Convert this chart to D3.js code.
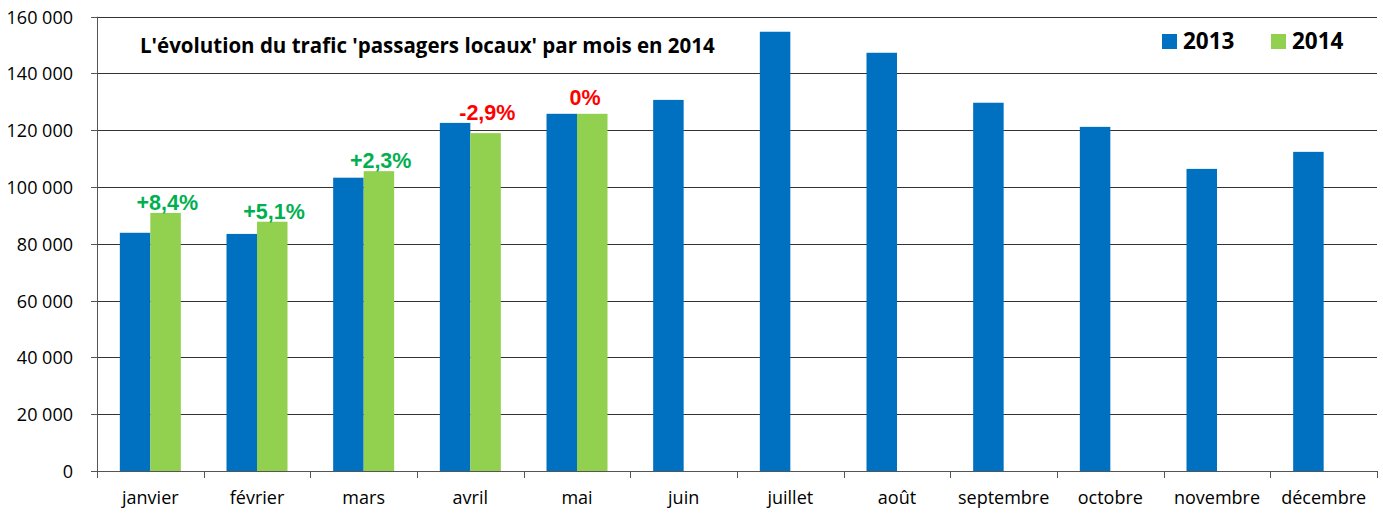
<!DOCTYPE html>
<html>
<head>
<meta charset="utf-8">
<script src="https://cdn.jsdelivr.net/npm/d3@7"></script>
<style>
  body { margin: 0; background: #fff; }
  svg { display: block; }
</style>
</head>
<body>
<svg id="chart" width="1383" height="517"></svg>
<script>
const months = ['janvier', 'février', 'mars', 'avril', 'mai', 'juin', 'juillet',
                'août', 'septembre', 'octobre', 'novembre', 'décembre'];
const values2013 = [83900, 83500, 103300, 122600, 125800, 130700, 154700,
                    147300, 129700, 121200, 106400, 112400];
const values2014 = [90900, 87800, 105600, 119000, 125800];
const changeLabels = ['+8,4%', '+5,1%', '+2,3%', '-2,9%', '0%'];
const yTicks = [0, 20000, 40000, 60000, 80000, 100000, 120000, 140000, 160000];

const BLUE = '#0070C0', GREEN = '#92D050';

const svg = d3.select('#chart');
const L = 97, R = 1377, T = 16.7, B = 471;

const x = d3.scaleBand().domain(months).range([L, R]).paddingInner(0).paddingOuter(0);
const y = d3.scaleLinear().domain([0, 160000]).range([B, T]);
const barW = 30.5;

const fmt = function (v) { return d3.format(',')(v).replace(/,/g, ' '); };

// gridlines
svg.append('g').selectAll('line')
    .data(yTicks.filter(function (d) { return d > 0; }))
    .join('line')
    .attr('x1', L).attr('x2', R)
    .attr('y1', function (d) { return Math.round(y(d)) + 0.5; })
    .attr('y2', function (d) { return Math.round(y(d)) + 0.5; })
    .attr('stroke', '#333').attr('stroke-width', 1.2);

// y tick labels + small ticks
yTicks.forEach(function (d) {
    var yy = Math.round(y(d)) + 0.5;
    svg.append('line').attr('x1', L - 6).attr('x2', L).attr('y1', yy).attr('y2', yy)
        .attr('stroke', '#555');
    svg.append('text')
        .attr('x', L - 24).attr('y', yy + 6.5)
        .attr('text-anchor', 'end')
        .style('font-family', 'Open Sans, sans-serif')
        .style('font-size', '18px')
        .style('fill', '#000')
        .text(fmt(d));
});

// bars 2013
svg.append('g').selectAll('rect')
    .data(values2013)
    .join('rect')
    .attr('x', function (d, i) { return x(months[i]) + x.bandwidth() / 2 - barW; })
    .attr('y', function (d) { return y(d); })
    .attr('width', barW)
    .attr('height', function (d) { return B - y(d); })
    .attr('fill', BLUE);

// bars 2014
svg.append('g').selectAll('rect')
    .data(values2014)
    .join('rect')
    .attr('x', function (d, i) { return x(months[i]) + x.bandwidth() / 2; })
    .attr('y', function (d) { return y(d); })
    .attr('width', barW)
    .attr('height', function (d) { return B - y(d); })
    .attr('fill', GREEN);

// change labels
svg.append('g').selectAll('text')
    .data(values2014)
    .join('text')
    .attr('x', function (d, i) { return x(months[i]) + x.bandwidth() / 2 + (i === 4 ? 8 : 17); })
    .attr('y', function (d, i) { return y(Math.max(d, values2013[i])) - (i === 4 ? 9 : 3); })
    .attr('text-anchor', 'middle')
    .style('font-family', 'Liberation Sans, Arial, sans-serif')
    .style('font-weight', 'bold')
    .style('font-size', '21.5px')
    .style('fill', function (d, i) { return changeLabels[i].charAt(0) === '+' ? '#00B050' : '#FF0000'; })
    .text(function (d, i) { return changeLabels[i]; });

// axes
svg.append('line').attr('x1', L + 0.5).attr('x2', L + 0.5).attr('y1', T).attr('y2', B)
    .attr('stroke', '#555');
svg.append('line').attr('x1', L).attr('x2', R).attr('y1', B + 0.5).attr('y2', B + 0.5)
    .attr('stroke', '#555');

// category ticks
months.concat(['_end']).forEach(function (m, i) {
    var xx = Math.round(L + i * x.bandwidth()) + 0.5;
    svg.append('line').attr('x1', xx).attr('x2', xx).attr('y1', B).attr('y2', B + 7)
        .attr('stroke', '#555');
});

// category labels
svg.append('g').selectAll('text')
    .data(months)
    .join('text')
    .attr('x', function (d) { return x(d) + x.bandwidth() / 2; })
    .attr('y', 504)
    .attr('text-anchor', 'middle')
    .style('font-family', 'Open Sans, sans-serif')
    .style('font-size', '18px')
    .style('fill', '#000')
    .text(function (d) { return d; });

// title
svg.append('text')
    .attr('x', 140).attr('y', 53)
    .style('font-family', 'Open Sans, sans-serif')
    .style('font-weight', 'bold')
    .style('font-size', '20.5px')
    .style('fill', '#000')
    .text("L'évolution du trafic 'passagers locaux' par mois en 2014");

// legend
[['2013', BLUE, 1162], ['2014', GREEN, 1271]].forEach(function (it) {
    svg.append('rect').attr('x', it[2]).attr('y', 34).attr('width', 15).attr('height', 15)
        .attr('fill', it[1]);
    svg.append('text').attr('x', it[2] + 21).attr('y', 49)
        .style('font-family', 'Open Sans, sans-serif')
        .style('font-weight', 'bold')
        .style('font-size', '22.5px')
        .style('fill', '#000')
        .text(it[0]);
});
</script>
</body>
</html>
